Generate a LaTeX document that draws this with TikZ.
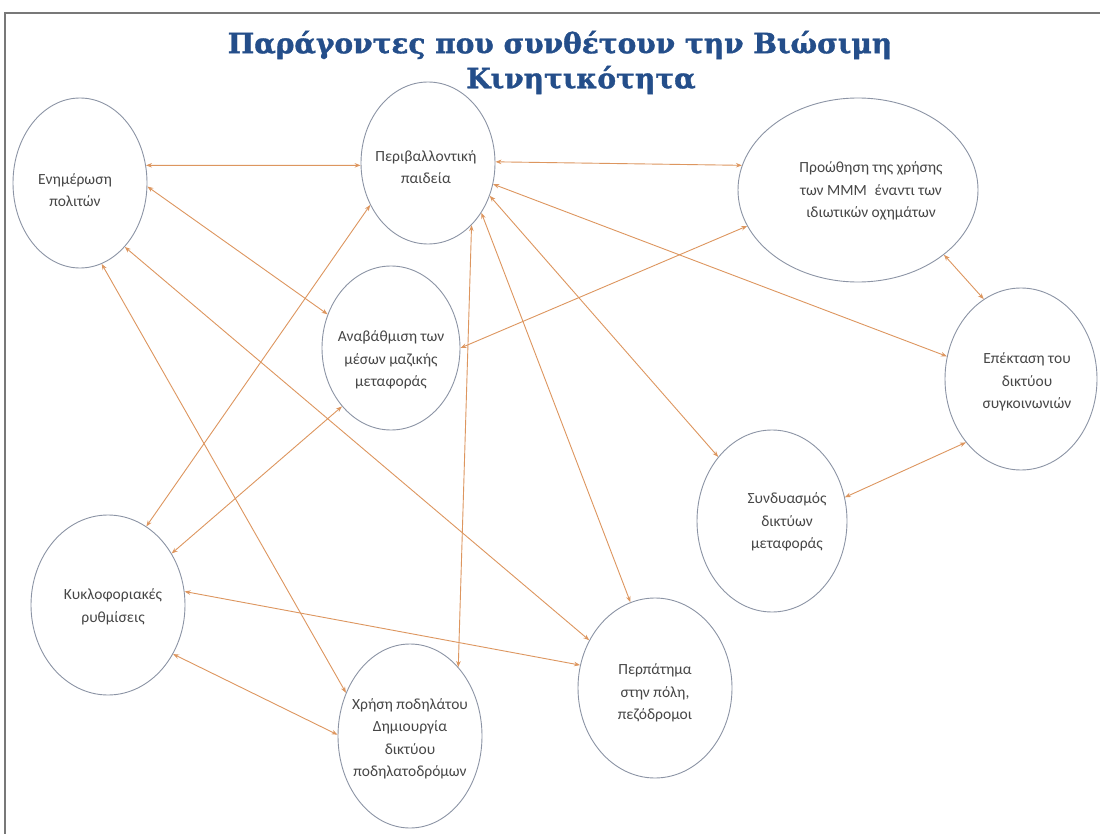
\documentclass[tikz,border=0pt]{standalone}
\usepackage{fontspec}
\setmainfont{Carlito}
\newfontfamily\titlefont{DejaVu Serif}[BoldFeatures={FakeBold=1.3}]
\usetikzlibrary{arrows.meta,shapes.geometric}
\definecolor{titleblue}{RGB}{36,78,138}
\definecolor{arrowc}{RGB}{221,150,95}
\definecolor{ellc}{RGB}{140,148,165}
\definecolor{framec}{RGB}{120,120,120}
\definecolor{txtc}{RGB}{70,70,70}
\begin{document}
\begin{tikzpicture}[x=1pt,y=-1pt,
 oval/.style={ellipse, draw=ellc, line width=0.9pt, fill=white, inner sep=0pt},
 lbl/.style={align=center, text=txtc, font=\fontsize{15.5}{22.5}\selectfont, inner sep=0pt},
 link/.style={draw=arrowc, line width=0.9pt, {Stealth[length=6pt,width=4.5pt]}-{Stealth[length=6pt,width=4.5pt]}},
 ttl/.style={text=titleblue, font=\titlefont\bfseries\fontsize{28}{33}\selectfont, inner sep=0pt}]
\useasboundingbox (0,0) rectangle (1100,834);
\fill[white] (0,0) rectangle (1100,834);
\coordinate (fa) at (5,834);
\coordinate (fb) at (5,13);
\coordinate (fc) at (1100,13);
\draw[framec, line width=2.5pt] (fa) -- (fb) -- (fc);

\node[ttl] (t1) at (560,45) {Παράγοντες που συνθέτουν την Βιώσιμη};
\node[ttl] (t2) at (581,80) {Κινητικότητα};

\node[oval, minimum width=134pt, minimum height=170pt] (e1) at (80,183) {};
\node[oval, minimum width=134pt, minimum height=162pt] (e2) at (428,163) {};
\node[oval, minimum width=240pt, minimum height=184pt] (e3) at (858,190) {};
\node[oval, minimum width=138pt, minimum height=164pt] (e4) at (391,348) {};
\node[oval, minimum width=152pt, minimum height=182pt] (e5) at (1021,379) {};
\node[oval, minimum width=150pt, minimum height=182pt] (e6) at (772,521) {};
\node[oval, minimum width=154pt, minimum height=180pt] (e7) at (108,605) {};
\node[oval, minimum width=144pt, minimum height=184pt] (e8) at (410,736) {};
\node[oval, minimum width=154pt, minimum height=180pt] (e9) at (655,688) {};

\node[lbl] (l1) at (75,190) {Ενημέρωση\\πολιτών};
\node[lbl] (l2) at (426,167) {Περιβαλλοντική\\παιδεία};
\node[lbl] (l3) at (871,191) {Προώθηση της χρήσης\\των ΜΜΜ\enspace έναντι των\\ιδιωτικών οχημάτων};
\node[lbl] (l4) at (391,360) {Αναβάθμιση των\\μέσων μαζικής\\μεταφοράς};
\node[lbl] (l5) at (1027,382) {Επέκταση του\\δικτύου\\συγκοινωνιών};
\node[lbl] (l6) at (787,522) {Συνδυασμός\\δικτύων\\μεταφοράς};
\node[lbl] (l7) at (113,607) {Κυκλοφοριακές\\ρυθμίσεις};
\node[lbl] (l8) at (410,739) {Χρήση ποδηλάτου\\Δημιουργία\\δικτύου\\ποδηλατοδρόμων};
\node[lbl] (l9) at (655,693) {Περπάτημα\\στην πόλη,\\πεζόδρομοι};

\draw[link] (e1.15) -- (e2.182);
\draw[link] (e2.1) -- (e3.168);
\draw[link] (e1.-3) -- (e4.152);
\draw[link] (e1.-55) -- (e9.144);
\draw[link] (e1.-75) -- (e8.146);
\draw[link] (e2.216) -- (e7.64);
\draw[link] (e4.230) -- (e7.39);
\draw[link] (e2.-55) -- (e8.55);
\draw[link] (e2.-43) -- (e9.106);
\draw[link] (e2.-28) -- (e6.130);
\draw[link] (e2.-18) -- (e5.163);
\draw[link] (e4.0) -- (e3.198);
\draw[link] (e3.-37) -- (e5.115);
\draw[link] (e5.229) -- (e6.18);
\draw[link] (e7.-37) -- (e8.179);
\draw[link] (e7.10) -- (e9.163);
\end{tikzpicture}
\end{document}
